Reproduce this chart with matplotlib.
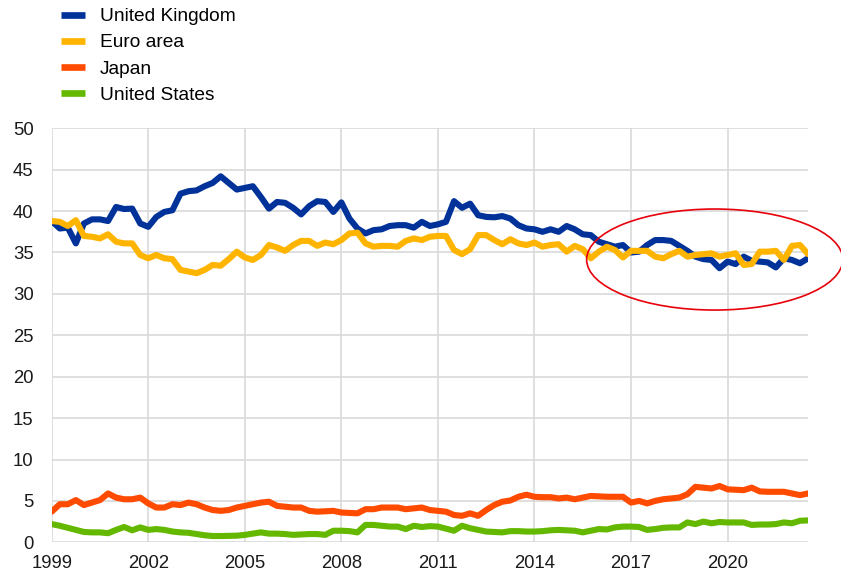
import numpy as np
import matplotlib
matplotlib.use("Agg")
import matplotlib.pyplot as plt
from matplotlib.lines import Line2D
from matplotlib.patches import Ellipse

plt.rcParams['font.family'] = ['Liberation Sans', 'DejaVu Sans']

# Quarterly observations, 1999 Q1 to 2022 Q3 (share, %)
start_year = 1999
united_kingdom = [
    38.8, 37.9, 38.0, 36.1, 38.5, 39.0, 39.0, 38.8, 40.5, 40.25,
    40.3, 38.5, 38.1, 39.3, 39.9, 40.1, 42.1, 42.4, 42.5, 43.0,
    43.4, 44.2, 43.4, 42.6, 42.8, 43.0, 41.7, 40.3, 41.1, 41.0,
    40.4, 39.6, 40.6, 41.2, 41.1, 39.9, 41.05, 39.1, 37.9, 37.3,
    37.7, 37.8, 38.2, 38.3, 38.3, 38.0, 38.7, 38.2, 38.4, 38.7,
    41.2, 40.4, 40.9, 39.5, 39.3, 39.25, 39.4, 39.1, 38.3, 37.9,
    37.8, 37.5, 37.8, 37.5, 38.2, 37.8, 37.2, 37.1, 36.3, 36.0,
    35.7, 35.9, 35.0, 35.1, 35.9, 36.5, 36.5, 36.4, 35.8, 35.2,
    34.5, 34.2, 34.1, 33.1, 33.9, 33.6, 34.5, 34.0, 33.9, 33.8,
    33.2, 34.3, 34.1, 33.7, 34.3,
]
euro_area = [
    38.8, 38.7, 38.2, 38.9, 37.0, 36.9, 36.7, 37.2, 36.3, 36.1,
    36.1, 34.7, 34.3, 34.7, 34.3, 34.2, 32.9, 32.7, 32.5, 32.9,
    33.5, 33.4, 34.2, 35.1, 34.4, 34.1, 34.7, 35.9, 35.6, 35.2,
    35.9, 36.4, 36.4, 35.8, 36.2, 36.0, 36.5, 37.3, 37.4, 36.1,
    35.7, 35.8, 35.8, 35.7, 36.4, 36.7, 36.5, 36.9, 37.0, 37.0,
    35.3, 34.8, 35.4, 37.1, 37.1, 36.5, 36.0, 36.6, 36.1, 35.9,
    36.2, 35.7, 35.9, 36.0, 35.1, 35.8, 35.4, 34.3, 35.1, 35.7,
    35.3, 34.4, 35.2, 35.2, 35.2, 34.5, 34.3, 34.8, 35.2, 34.5,
    34.7, 34.8, 34.9, 34.5, 34.7, 34.9, 33.5, 33.6, 35.1, 35.1,
    35.2, 34.1, 35.8, 35.9, 34.8,
]
japan = [
    3.7, 4.6, 4.6, 5.1, 4.5, 4.8, 5.1, 5.9, 5.4, 5.2,
    5.2, 5.4, 4.7, 4.2, 4.2, 4.6, 4.5, 4.8, 4.6, 4.2,
    3.9, 3.8, 3.9, 4.2, 4.4, 4.6, 4.8, 4.9, 4.4, 4.3,
    4.2, 4.2, 3.8, 3.7, 3.75, 3.8, 3.6, 3.55, 3.5, 4.0,
    4.0, 4.2, 4.2, 4.2, 4.0, 4.1, 4.2, 3.9, 3.8, 3.7,
    3.3, 3.2, 3.5, 3.2, 3.9, 4.5, 4.9, 5.05, 5.5, 5.75,
    5.5, 5.45, 5.45, 5.3, 5.4, 5.2, 5.4, 5.6, 5.55, 5.5,
    5.5, 5.5, 4.8, 5.0, 4.7, 5.0, 5.2, 5.3, 5.4, 5.8,
    6.7, 6.6, 6.5, 6.8, 6.4, 6.35, 6.3, 6.6, 6.15, 6.1,
    6.1, 6.1, 5.9, 5.7, 5.9,
]
united_states = [
    2.2, 2.0, 1.75, 1.5, 1.25, 1.2, 1.2, 1.1, 1.5, 1.85,
    1.45, 1.8, 1.5, 1.6, 1.5, 1.3, 1.2, 1.15, 1.0, 0.85,
    0.76, 0.76, 0.78, 0.8, 0.9, 1.05, 1.2, 1.05, 1.05, 1.0,
    0.9, 0.95, 1.0, 1.0, 0.9, 1.4, 1.4, 1.35, 1.2, 2.1,
    2.1, 2.0, 1.9, 1.9, 1.6, 2.0, 1.85, 1.95, 1.9, 1.65,
    1.4, 2.0, 1.7, 1.5, 1.3, 1.25, 1.2, 1.35, 1.35, 1.3,
    1.3, 1.35, 1.45, 1.5, 1.45, 1.4, 1.2, 1.4, 1.6, 1.55,
    1.8, 1.9, 1.9, 1.85, 1.5, 1.6, 1.75, 1.8, 1.8, 2.4,
    2.2, 2.5, 2.3, 2.45, 2.4, 2.4, 2.4, 2.1, 2.15, 2.15,
    2.2, 2.4, 2.3, 2.6, 2.65,
]

series_names = ["United Kingdom", "Euro area", "Japan", "United States"]
series_colors = ["#003299", "#FFB400", "#FF4B00", "#65B800"]
x_ticks = [1999, 2002, 2005, 2008, 2011, 2014, 2017, 2020]
y_ticks = [0, 5, 10, 15, 20, 25, 30, 35, 40, 45, 50]

x = start_year + np.arange(len(united_kingdom)) / 4.0

fig = plt.figure(figsize=(8.41, 5.74), dpi=100)
ax = fig.add_axes([0.0615, 0.0552, 0.8993, 0.7213])

for values, color in zip([united_kingdom, euro_area, japan, united_states], series_colors):
    ax.plot(x, values, color=color, lw=4.4, solid_joinstyle='round',
            solid_capstyle='round', zorder=3)

ax.set_xlim(x[0], x[-1])
ax.set_ylim(0, 50)
ax.set_xticks(x_ticks)
ax.set_xticklabels([str(t) for t in x_ticks])
ax.set_yticks(y_ticks)
ax.grid(True, color='#d9d9d9', lw=1.2, zorder=0)
ax.set_axisbelow(True)
for s in ax.spines.values():
    s.set_visible(False)
ax.tick_params(length=0, labelsize=13.3, colors='#1a1a1a')
ax.tick_params(axis='y', pad=13)
ax.tick_params(axis='x', pad=9)

# Highlight of the recent period
ell = Ellipse((2019.6, 34.15), 7.96, 12.2, fill=False, edgecolor='#E8000B',
              lw=1.2, zorder=4, clip_on=False)
ax.add_patch(ell)

handles = [Line2D([], [], color=c, lw=4.8, solid_capstyle='butt') for c in series_colors]
fig.legend(handles, series_names, loc='upper left',
           bbox_to_anchor=(61 / 841, 1 - 8 / 574), frameon=False,
           fontsize=13.8, handlelength=1.25, handletextpad=0.78,
           labelspacing=0.45, borderpad=0, borderaxespad=0)

fig.savefig("out.png", dpi=100)
